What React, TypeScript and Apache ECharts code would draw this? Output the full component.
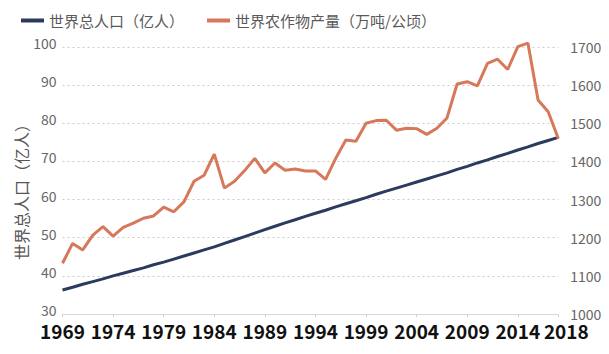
import React, { useEffect, useRef } from "react";
import * as echarts from "echarts";

const years: string[] = [
  "1969","1970","1971","1972","1973","1974","1975","1976","1977","1978",
  "1979","1980","1981","1982","1983","1984","1985","1986","1987","1988",
  "1989","1990","1991","1992","1993","1994","1995","1996","1997","1998",
  "1999","2000","2001","2002","2003","2004","2005","2006","2007","2008",
  "2009","2010","2011","2012","2013","2014","2015","2016","2017","2018",
];

// 世界总人口（亿人）
const population: number[] = [
  36.3, 37.0, 37.8, 38.5, 39.2, 40.0, 40.7, 41.4, 42.1, 42.9,
  43.6, 44.4, 45.2, 46.0, 46.8, 47.6, 48.5, 49.4, 50.3, 51.2,
  52.1, 53.0, 53.9, 54.7, 55.6, 56.4, 57.2, 58.1, 58.9, 59.7,
  60.5, 61.4, 62.2, 63.0, 63.8, 64.6, 65.4, 66.2, 67.0, 67.9,
  68.7, 69.6, 70.4, 71.3, 72.1, 73.0, 73.8, 74.7, 75.5, 76.3,
];

// 世界农作物产量（万吨/公顷）
const cropYield: number[] = [
  1133, 1185, 1168, 1207, 1229, 1204, 1227, 1238, 1251, 1257,
  1280, 1268, 1294, 1348, 1364, 1419, 1330, 1348, 1376, 1408,
  1370, 1396, 1377, 1380, 1375, 1375, 1353, 1408, 1456, 1453,
  1500, 1507, 1508, 1482, 1487, 1486, 1471, 1487, 1514, 1603,
  1609, 1598, 1657, 1668, 1641, 1701, 1710, 1561, 1530, 1460,
];

const seriesNames = ["世界总人口（亿人）", "世界农作物产量（万吨/公顷）"];
const leftAxisName = "世界总人口（亿人）";

const FONT = "'Noto Sans CJK SC', 'Noto Sans', sans-serif";
const BLUE = "#2b3a5e";
const ORANGE = "#d6785a";

const showIdx = (i: number) => i % 5 === 0 || i === years.length - 1;

export default function App() {
  const ref = useRef<HTMLDivElement>(null);
  useEffect(() => {
    if (!ref.current) return;
    const chart = echarts.init(ref.current, undefined, { renderer: "svg" });
    chart.setOption({
      animation: false,
      backgroundColor: "#ffffff",
      textStyle: { fontFamily: FONT },
      legend: {
        left: 16,
        top: 8,
        itemWidth: 23,
        itemHeight: 4,
        itemGap: 23,
        icon: "rect",
        textStyle: { fontSize: 15, color: "#595959", fontFamily: FONT },
        data: seriesNames,
      },
      grid: { left: 62.5, right: 50.7, top: 47, bottom: 40, containLabel: false },
      xAxis: {
        type: "category",
        data: years,
        boundaryGap: false,
        axisLine: { lineStyle: { color: "#d9d9d9", width: 1 } },
        axisTick: {
          show: true,
          interval: (i: number) => showIdx(i),
          length: 3,
          lineStyle: { color: "#d0d0d0" },
        },
        axisLabel: {
          interval: (i: number) => showIdx(i),
          margin: 7,
          color: "#111111",
          fontSize: 19,
          fontWeight: "bold",
          fontFamily: FONT,
          formatter: (v: string) => (v === years[years.length - 1] ? `{last|${v}}` : v),
          rich: {
            last: {
              fontSize: 19,
              fontWeight: "bold",
              color: "#111111",
              fontFamily: FONT,
              padding: [0, 0, 0, 16],
            },
          },
        },
      },
      yAxis: [
        {
          type: "value",
          min: 30,
          max: 100,
          interval: 10,
          axisLine: { show: false },
          axisTick: { show: false },
          axisLabel: {
            color: "#666666",
            fontSize: 14,
            margin: 6,
            fontFamily: FONT,
            verticalAlign: "bottom",
            lineHeight: 8,
          },
          splitLine: { show: true, lineStyle: { color: "#cccccc", type: [2, 3], width: 1 } },
        },
        {
          type: "value",
          min: 1000,
          max: 1700,
          interval: 100,
          axisLine: { show: false },
          axisTick: { show: false },
          axisLabel: {
            color: "#666666",
            fontSize: 14,
            lineHeight: 12,
            margin: 12,
            fontFamily: FONT,
            formatter: (v: number) => String(v),
          },
          splitLine: { show: false },
        },
      ],
      graphic: [
        {
          type: "text",
          x: 21,
          y: 188,
          rotation: Math.PI / 2,
          style: {
            text: leftAxisName,
            fontSize: 16,
            fill: "#555555",
            fontFamily: FONT,
            align: "center",
            verticalAlign: "middle",
          },
        },
      ],
      series: [
        {
          name: seriesNames[0],
          type: "line",
          data: population,
          yAxisIndex: 0,
          showSymbol: false,
          symbol: "none",
          clip: false,
          lineStyle: { color: BLUE, width: 3 },
          itemStyle: { color: BLUE },
        },
        {
          name: seriesNames[1],
          type: "line",
          data: cropYield,
          yAxisIndex: 1,
          showSymbol: false,
          symbol: "none",
          clip: false,
          lineStyle: { color: ORANGE, width: 3 },
          itemStyle: { color: ORANGE },
        },
      ],
    });
    return () => chart.dispose();
  }, []);
  return (
    <div
      ref={ref}
      style={{ position: "fixed", left: 0, top: 0, width: 609, height: 354, background: "#fff" }}
    />
  );
}
